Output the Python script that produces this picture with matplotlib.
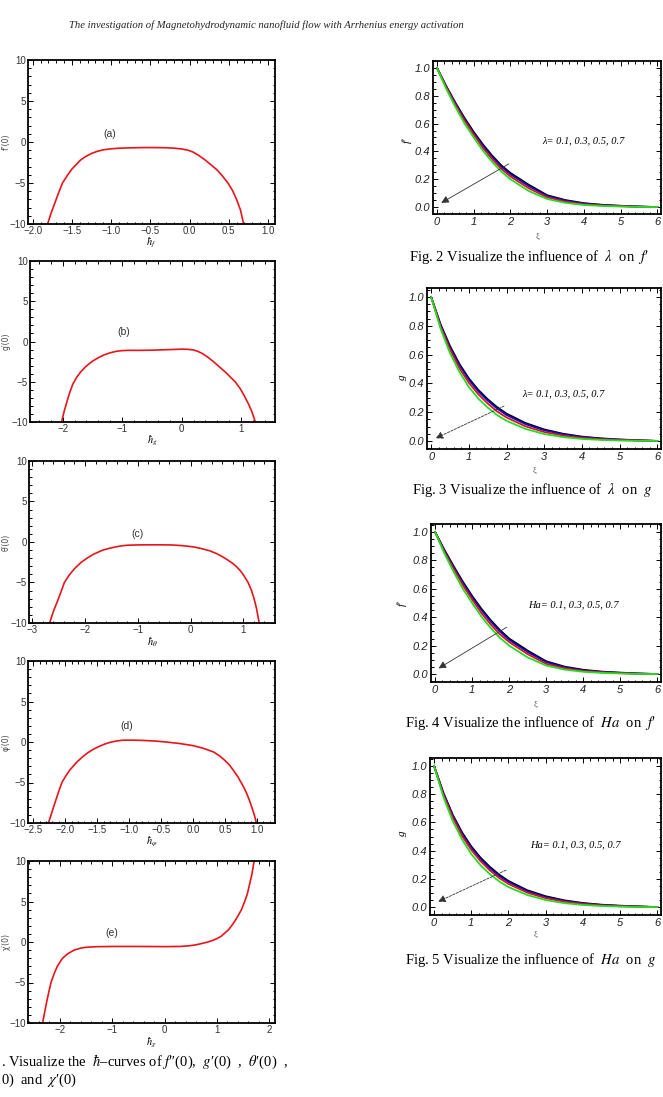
import numpy as np
import matplotlib.pyplot as plt
from matplotlib.ticker import AutoMinorLocator

plt.rcParams['mathtext.fontset'] = 'stix'

W, H = 663, 1097

# ---- h-curves (left column): (h, value) points ----
h_a = [-1.81, -1.77, -1.72, -1.67, -1.62, -1.56, -1.5, -1.44, -1.39, -1.32, -1.25, -1.18, -1.1, -1.0, -0.9, -0.75,
       -0.6, -0.45, -0.3, -0.2, -0.1, -0.02, 0.05, 0.12, 0.2, 0.27, 0.35, 0.42, 0.49, 0.55, 0.6, 0.65, 0.69]
v_a = [-10, -8.8, -7.5, -6.2, -5.0, -4.1, -3.3, -2.7, -2.2, -1.75, -1.4, -1.15, -0.95, -0.83, -0.76, -0.71,
       -0.68, -0.68, -0.7, -0.75, -0.85, -1.0, -1.25, -1.65, -2.2, -2.75, -3.4, -4.15, -5.0, -5.95, -7.0, -8.3, -10]

h_b = [-2.02, -1.98, -1.93, -1.88, -1.83, -1.77, -1.7, -1.61, -1.51, -1.4, -1.3, -1.2, -1.1, -1.0, -0.9, -0.7,
       -0.5, -0.3, -0.1, 0.0, 0.1, 0.2, 0.28, 0.35, 0.45, 0.55, 0.65, 0.75, 0.83, 0.9, 0.98, 1.05, 1.12, 1.18, 1.24]
v_b = [-10, -8.8, -7.5, -6.3, -5.3, -4.5, -3.8, -3.1, -2.5, -2.0, -1.65, -1.4, -1.22, -1.13, -1.1, -1.1,
       -1.08, -1.03, -0.98, -0.95, -0.97, -1.05, -1.25, -1.5, -2.0, -2.6, -3.25, -3.9, -4.5, -5.0, -5.8, -6.7, -7.7, -8.7, -10]

h_c = [-2.67, -2.6, -2.52, -2.45, -2.39, -2.3, -2.2, -2.07, -1.95, -1.85, -1.75, -1.66, -1.55, -1.4, -1.3, -1.2,
       -1.0, -0.8, -0.55, -0.35, -0.15, 0.05, 0.2, 0.37, 0.5, 0.6, 0.7, 0.8, 0.88, 0.95, 1.02, 1.09, 1.15, 1.2, 1.25, 1.3]
v_c = [-10, -8.6, -7.3, -6.1, -5.0, -4.1, -3.3, -2.5, -1.95, -1.55, -1.25, -1.0, -0.8, -0.58, -0.47, -0.4,
       -0.36, -0.35, -0.35, -0.37, -0.45, -0.6, -0.8, -1.1, -1.45, -1.8, -2.2, -2.65, -3.1, -3.6, -4.25, -5.0, -5.9, -6.9, -8.2, -10]

h_d = [-2.26, -2.2, -2.15, -2.1, -2.05, -1.99, -1.93, -1.87, -1.82, -1.73, -1.65, -1.56, -1.47, -1.38, -1.3, -1.2,
       -1.1, -0.95, -0.8, -0.6, -0.42, -0.2, 0.0, 0.15, 0.32, 0.42, 0.5, 0.57, 0.63, 0.7, 0.75, 0.8, 0.84, 0.88, 0.92, 0.96, 0.99]
v_d = [-10, -8.5, -7.3, -6.1, -5.0, -4.2, -3.5, -2.95, -2.5, -1.85, -1.35, -0.9, -0.55, -0.25, -0.05, 0.12,
       0.22, 0.23, 0.2, 0.12, 0.0, -0.2, -0.45, -0.75, -1.23, -1.75, -2.3, -2.85, -3.5, -4.3, -5.0, -5.7, -6.4, -7.2, -8.1, -9.1, -10]

h_e = [-2.33, -2.29, -2.25, -2.21, -2.17, -2.11, -2.05, -1.95, -1.85, -1.73, -1.6, -1.5, -1.3, -1.0, -0.5, 0.0,
       0.3, 0.45, 0.55, 0.65, 0.75, 0.83, 0.92, 1.0, 1.08, 1.15, 1.22, 1.28, 1.34, 1.4, 1.47, 1.53, 1.58, 1.62, 1.67, 1.71]
v_e = [-10, -8.6, -7.3, -6.1, -5.0, -3.9, -3.0, -2.0, -1.45, -1.0, -0.75, -0.65, -0.58, -0.55, -0.55, -0.57,
       -0.55, -0.48, -0.4, -0.28, -0.12, 0.0, 0.2, 0.42, 0.7, 1.1, 1.5, 2.0, 2.55, 3.2, 4.0, 5.0, 5.9, 7.0, 8.4, 10]

# ---- profiles (right column) ----
xi = [0, 0.25, 0.5, 0.75, 1, 1.25, 1.5, 1.75, 2, 2.5, 3, 3.5, 4, 4.5, 5, 5.5, 6]

fp_lam = [
    [1.0, 0.87, 0.75, 0.64, 0.54, 0.45, 0.37, 0.30, 0.245, 0.16, 0.085, 0.05, 0.028, 0.016, 0.009, 0.004, 0.0],
    [1.0, 0.865, 0.745, 0.63, 0.53, 0.44, 0.36, 0.29, 0.235, 0.15, 0.08, 0.046, 0.025, 0.014, 0.008, 0.003, 0.0],
    [1.0, 0.86, 0.735, 0.62, 0.52, 0.425, 0.345, 0.275, 0.22, 0.135, 0.07, 0.038, 0.02, 0.011, 0.006, 0.002, 0.0],
    [1.0, 0.85, 0.72, 0.60, 0.50, 0.405, 0.325, 0.255, 0.20, 0.115, 0.058, 0.03, 0.015, 0.008, 0.004, 0.001, 0.0],
]
g_lam = [
    [1.0, 0.81, 0.66, 0.535, 0.435, 0.355, 0.29, 0.235, 0.19, 0.125, 0.08, 0.05, 0.03, 0.018, 0.01, 0.005, 0.0],
    [1.0, 0.805, 0.65, 0.525, 0.425, 0.345, 0.28, 0.225, 0.18, 0.117, 0.074, 0.046, 0.027, 0.016, 0.009, 0.004, 0.0],
    [1.0, 0.795, 0.635, 0.505, 0.405, 0.325, 0.26, 0.205, 0.163, 0.102, 0.062, 0.037, 0.021, 0.012, 0.006, 0.003, 0.0],
    [1.0, 0.78, 0.61, 0.48, 0.375, 0.295, 0.232, 0.18, 0.14, 0.084, 0.048, 0.027, 0.014, 0.007, 0.003, 0.001, 0.0],
]
fp_ha = [
    [1.0, 0.875, 0.76, 0.65, 0.55, 0.46, 0.38, 0.31, 0.25, 0.165, 0.09, 0.052, 0.03, 0.017, 0.01, 0.004, 0.0],
    [1.0, 0.87, 0.752, 0.64, 0.54, 0.45, 0.37, 0.30, 0.24, 0.155, 0.083, 0.047, 0.026, 0.015, 0.008, 0.003, 0.0],
    [1.0, 0.86, 0.74, 0.625, 0.525, 0.43, 0.35, 0.28, 0.225, 0.14, 0.072, 0.04, 0.021, 0.012, 0.006, 0.002, 0.0],
    [1.0, 0.85, 0.72, 0.60, 0.50, 0.405, 0.325, 0.255, 0.20, 0.117, 0.06, 0.031, 0.016, 0.008, 0.004, 0.001, 0.0],
]
g_ha = [
    [1.0, 0.81, 0.655, 0.53, 0.43, 0.35, 0.285, 0.23, 0.185, 0.12, 0.077, 0.048, 0.029, 0.017, 0.01, 0.005, 0.0],
    [1.0, 0.805, 0.648, 0.52, 0.42, 0.34, 0.275, 0.22, 0.177, 0.113, 0.071, 0.044, 0.026, 0.015, 0.008, 0.004, 0.0],
    [1.0, 0.795, 0.635, 0.505, 0.405, 0.325, 0.26, 0.206, 0.164, 0.103, 0.063, 0.038, 0.022, 0.012, 0.006, 0.003, 0.0],
    [1.0, 0.78, 0.61, 0.48, 0.376, 0.296, 0.233, 0.182, 0.142, 0.086, 0.05, 0.028, 0.015, 0.008, 0.004, 0.001, 0.0],
]
line_colors = ['black', '#1010c8', '#e01020', '#20e020']

fig = plt.figure(figsize=(W / 100, H / 100), dpi=100)


def box(l, t, r, b):
    return [l / W, 1 - b / H, (r - l) / W, (b - t) / H]


def ftext(x, y, s, **kw):
    fig.text(x / W, 1 - y / H, s, **kw)


def frame(ax):
    for s in ax.spines.values():
        s.set_linewidth(1.3)
    ax.tick_params(which='both', direction='in', top=True, right=True, width=0.7)
    ax.tick_params(which='major', length=3.5)
    ax.tick_params(which='minor', length=1.8)


left_panels = [
    (box(28, 60, 275, 224), h_a, v_a, (-2.06, 1.09), [-2.0, -1.5, -1.0, -0.5, 0.0, 0.5, 1.0], '%.1f', '(a)', (-1.02, 1.0), 'f″(0)', r'$\hbar_f$', 243),
    (box(30, 261, 275, 422), h_b, v_b, (-2.55, 1.57), [-2, -1, 0, 1], '%d', '(b)', (-0.98, 1.2), 'g′(0)', r'$\hbar_g$', 441),
    (box(29, 461, 275, 623), h_c, v_c, (-3.06, 1.6), [-3, -2, -1, 0, 1], '%d', '(c)', (-1.0, 1.0), 'θ′(0)', r'$\hbar_\theta$', 642),
    (box(28, 661, 275, 823), h_d, v_d, (-2.58, 1.28), [-2.5, -2.0, -1.5, -1.0, -0.5, 0.0, 0.5, 1.0], '%.1f', '(d)', (-1.03, 2.0), 'φ′(0)', r'$\hbar_\varphi$', 842),
    (box(28, 861, 275, 1023), h_e, v_e, (-2.61, 2.11), [-2, -1, 0, 1, 2], '%d', '(e)', (-1.0, 1.05), 'χ′(0)', r'$\hbar_\chi$', 1043),
]

for rect, hx, hy, xl, xt, fmt, tag, tagpos, ylab, xlab, xlab_y in left_panels:
    ax = fig.add_axes(rect)
    ax.plot(hx, hy, color='#e8141c', lw=1.2)
    ax.set_xlim(*xl)
    ax.set_ylim(-10, 10)
    ax.set_yticks([-10, -5, 0, 5, 10])
    ax.set_yticklabels(['\u221210', '\u22125', '0', '5', '10'])
    ax.set_xticks(xt)
    ax.set_xticklabels([(fmt % v).replace('-', '\u2212') for v in xt])
    ax.xaxis.set_minor_locator(AutoMinorLocator(5))
    ax.yaxis.set_minor_locator(AutoMinorLocator(5))
    frame(ax)
    ax.tick_params(labelsize=7, pad=1.5, labelcolor='#333333')
    for lab in ax.get_xticklabels() + ax.get_yticklabels():
        lab.set_family('Liberation Sans')
    ax.text(tagpos[0], tagpos[1], tag, fontsize=7.5, family='Liberation Sans', color='#333333',
            ha='center', va='center')
    ymid = rect[1] + rect[3] / 2
    fig.text(6 / W, ymid, ylab, rotation=90, fontsize=5.5, ha='center', va='center',
             family='DejaVu Sans', color='#444444')
    ftext(rect[0] * W + rect[2] * W / 2, xlab_y, xlab, fontsize=7.5, ha='center', va='center')

right_panels = [
    (box(433, 61, 661, 214), fp_lam, (-0.05, 1.05), 'f′', 407, 140, 'λ', (3.98, 0.48), (2.02, 0.32), (0.05, 0.02), '-', 237,
     409, 257, r"Fig. 2 Visualize the influence of  $\lambda$  on  $f$′"),
    (box(427, 288, 661, 449), g_lam, (-0.056, 1.0625), 'g', 403, 377, 'λ', (3.5, 0.33), (2.0, 0.25), (0.05, 0.01), (0, (3, 1.5)), 471,
     412, 490, r"Fig. 3 Visualize the influence of  $\lambda$  on  $g$"),
    (box(431, 524, 661, 682), fp_ha, (-0.056, 1.056), 'f′', 402, 603, 'Ha', (3.74, 0.49), (2.0, 0.34), (0.03, 0.03), '-', 705,
     405, 723, r"Fig. 4 Visualize the influence of  $Ha$  on  $f$′"),
    (box(430, 758, 661, 915), g_ha, (-0.056, 1.056), 'g', 403, 833, 'Ha', (3.8, 0.44), (2.0, 0.27), (0.04, 0.03), (0, (3, 1.5)), 935,
     405, 960, r"Fig. 5 Visualize the influence of  $Ha$  on  $g$"),
]

for rect, curves, yl, ylab, ylx, yly, par, tpos, a0, a1, als, xly, cx, cy, cap in right_panels:
    ax = fig.add_axes(rect)
    for vals, c in zip(curves, line_colors):
        ax.plot(xi, vals, color=c, lw=1.3)
    ax.set_xlim(-0.11, 6.1)
    ax.set_ylim(*yl)
    ax.set_xticks(range(7))
    ax.set_yticks([0.0, 0.2, 0.4, 0.6, 0.8, 1.0])
    ax.set_yticklabels(['0.0', '0.2', '0.4', '0.6', '0.8', '1.0'])
    ax.xaxis.set_minor_locator(AutoMinorLocator(5))
    ax.yaxis.set_minor_locator(AutoMinorLocator(4))
    frame(ax)
    ax.tick_params(labelsize=8, pad=2, labelcolor='#222222')
    for lab in ax.get_xticklabels() + ax.get_yticklabels():
        lab.set_family('Liberation Sans')
        lab.set_style('italic')
    ax.text(tpos[0], tpos[1], par + '= 0.1, 0.3, 0.5, 0.7', fontsize=7.5, family='Liberation Serif',
            style='italic', ha='center', va='center')
    ax.annotate('', xy=a1, xytext=a0,
                arrowprops=dict(arrowstyle='-|>', color='#333333', lw=0.6, ls=als, mutation_scale=11))
    ftext(ylx, yly, ylab, rotation=90, fontsize=8, ha='center', va='center', family='Liberation Serif',
          style='italic')
    ftext(rect[0] * W + 0.5 * rect[2] * W - 10, xly, 'ξ', fontsize=6, ha='center', va='center',
          family='Liberation Serif', color='#555555')
    ftext(cx, cy, cap, fontsize=10.5, family='Liberation Serif', ha='left', va='center')

ftext(266, 25, 'The investigation of Magnetohydrodynamic nanofluid flow with Arrhenius energy activation',
      fontsize=7.7, family='Liberation Serif', style='italic', ha='center', va='center', color='#222222')
ftext(1, 1062, r". Visualize the  $\hbar$–curves of $f$″(0),  $g$′(0)  ,  $\theta$′(0)  ,",
      fontsize=10.5, family='Liberation Serif', ha='left', va='center')
ftext(1, 1080, r"0)  and  $\chi$′(0)", fontsize=10.5, family='Liberation Serif', ha='left', va='center')

fig.savefig('out.png', dpi=100)
